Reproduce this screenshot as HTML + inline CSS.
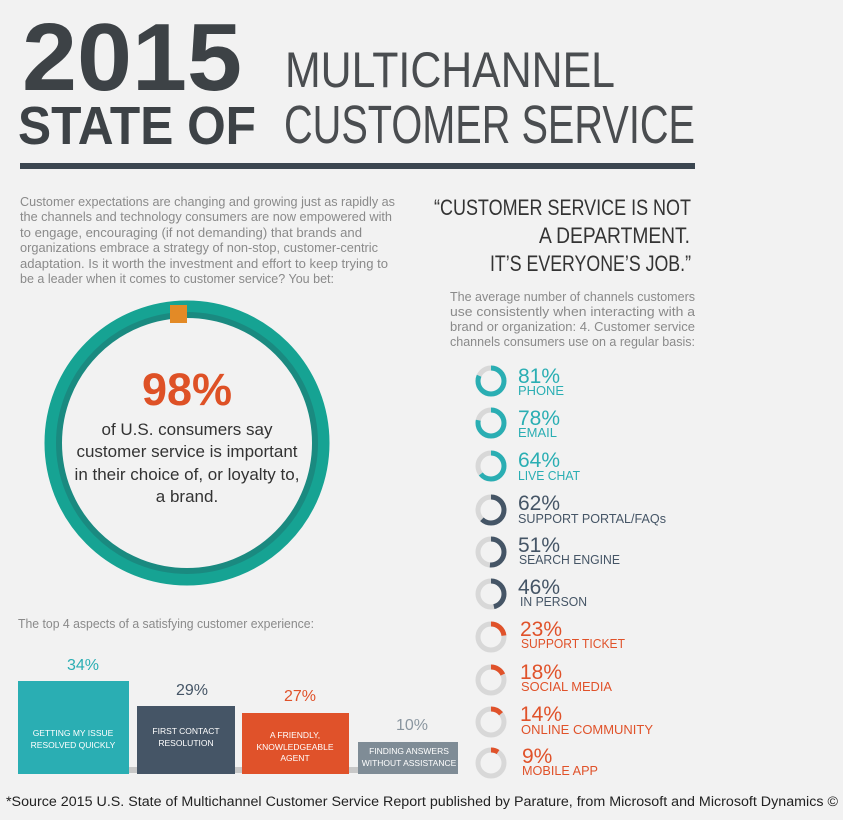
<!DOCTYPE html>
<html><head><meta charset="utf-8"><style>
html,body{margin:0;padding:0;background:#f2f2f2;}
svg{display:block;font-family:"Liberation Sans",sans-serif;}
</style></head><body>
<svg width="843" height="820" viewBox="0 0 843 820" xmlns="http://www.w3.org/2000/svg">
<rect width="843" height="820" fill="#f2f2f2"/>
<g fill="#3d4246" font-weight="bold">
<text x="22" y="90" font-size="96" textLength="220" lengthAdjust="spacingAndGlyphs">2015</text>
<text x="18" y="144" font-size="54" textLength="238" lengthAdjust="spacingAndGlyphs">STATE OF</text>
</g>
<g fill="#4a4d50">
<text x="285" y="87" font-size="50" textLength="330" lengthAdjust="spacingAndGlyphs">MULTICHANNEL</text>
<text x="284" y="143" font-size="54" textLength="411" lengthAdjust="spacingAndGlyphs">CUSTOMER SERVICE</text>
</g>
<rect x="20" y="163" width="675" height="6" fill="#3b4650"/>
<g fill="#8a8a8a" font-size="12.5">
<text x="20" y="206" textLength="375" lengthAdjust="spacingAndGlyphs">Customer expectations are changing and growing just as rapidly as</text>
<text x="20" y="221" textLength="372" lengthAdjust="spacingAndGlyphs">the channels and technology consumers are now empowered with</text>
<text x="20" y="237" textLength="342" lengthAdjust="spacingAndGlyphs">to engage, encouraging (if not demanding) that brands and</text>
<text x="20" y="252" textLength="358" lengthAdjust="spacingAndGlyphs">organizations embrace a strategy of non-stop, customer-centric</text>
<text x="20" y="268" textLength="368" lengthAdjust="spacingAndGlyphs">adaptation. Is it worth the investment and effort to keep trying to</text>
<text x="20" y="283" textLength="314" lengthAdjust="spacingAndGlyphs">be a leader when it comes to customer service? You bet:</text>
</g>
<g fill="#333" font-size="22" text-anchor="end">
<text x="691" y="215" textLength="257" lengthAdjust="spacingAndGlyphs">“CUSTOMER SERVICE IS NOT</text>
<text x="690" y="243" textLength="151" lengthAdjust="spacingAndGlyphs">A DEPARTMENT.</text>
<text x="691" y="271" textLength="201" lengthAdjust="spacingAndGlyphs">IT’S EVERYONE’S JOB.”</text>
</g>
<g fill="#8a8a8a" font-size="12.5" text-anchor="end">
<text x="695" y="301" textLength="245" lengthAdjust="spacingAndGlyphs">The average number of channels customers</text>
<text x="695" y="316" textLength="245" lengthAdjust="spacingAndGlyphs">use consistently when interacting with a</text>
<text x="695" y="331" textLength="245" lengthAdjust="spacingAndGlyphs">brand or organization: 4. Customer service</text>
<text x="695" y="346" textLength="245" lengthAdjust="spacingAndGlyphs">channels consumers use on a regular basis:</text>
</g>
<circle cx="187" cy="443" r="134" fill="none" stroke="#16a393" stroke-width="17"/>
<circle cx="187" cy="443" r="128" fill="none" stroke="#1a8a80" stroke-width="6"/>
<rect x="170" y="305" width="17" height="18" fill="#e38a26"/>
<text x="187" y="405" font-size="45" font-weight="bold" fill="#de5126" text-anchor="middle">98%</text>
<g fill="#333" font-size="17" text-anchor="middle">
<text x="187" y="435">of U.S. consumers say</text>
<text x="187" y="457">customer service is important</text>
<text x="187" y="480">in their choice of, or loyalty to,</text>
<text x="187" y="502">a brand.</text>
</g>
<text x="18" y="628" font-size="12.5" fill="#8a8a8a" textLength="296" lengthAdjust="spacingAndGlyphs">The top 4 aspects of a satisfying customer experience:</text>
<rect x="18" y="767" width="440" height="6" fill="#c8c8c8"/>
<rect x="18" y="681" width="111" height="93" fill="#2aaeb3"/>
<rect x="137" y="706" width="98" height="68" fill="#455566"/>
<rect x="242" y="713" width="107" height="61" fill="#e0522a"/>
<rect x="358" y="742" width="100" height="32" fill="#7f8c96"/>
<g font-size="16" text-anchor="middle">
<text x="83" y="670" fill="#2aaeb3">34%</text>
<text x="192" y="695" fill="#455566">29%</text>
<text x="300" y="701" fill="#e0522a">27%</text>
<text x="412" y="730" fill="#8a96a0">10%</text>
</g>
<g fill="#fff" font-size="8.5" text-anchor="middle">
<text x="73" y="736">GETTING MY ISSUE</text>
<text x="73" y="748">RESOLVED QUICKLY</text>
<text x="186" y="734">FIRST CONTACT</text>
<text x="186" y="746">RESOLUTION</text>
<text x="295" y="738">A FRIENDLY,</text>
<text x="295" y="750">KNOWLEDGEABLE</text>
<text x="295" y="761">AGENT</text>
<text x="409" y="754">FINDING ANSWERS</text>
<text x="409" y="766">WITHOUT ASSISTANCE</text>
</g>
<text x="6" y="806" font-size="13.5" fill="#222" textLength="832" lengthAdjust="spacingAndGlyphs">*Source 2015 U.S. State of Multichannel Customer Service Report published by Parature, from Microsoft and Microsoft Dynamics ©</text>
<g fill="none" stroke-width="5">
<circle cx="491" cy="381" r="13" stroke="#d8d8d8"/>
<circle cx="491" cy="381" r="13" stroke="#2aaeb3" stroke-dasharray="66.2 100" transform="rotate(-90 491 381)"/>
<circle cx="491" cy="423" r="13" stroke="#d8d8d8"/>
<circle cx="491" cy="423" r="13" stroke="#2aaeb3" stroke-dasharray="63.7 100" transform="rotate(-90 491 423)"/>
<circle cx="491" cy="466" r="13" stroke="#d8d8d8"/>
<circle cx="491" cy="466" r="13" stroke="#2aaeb3" stroke-dasharray="52.3 100" transform="rotate(-90 491 466)"/>
<circle cx="491" cy="510" r="13" stroke="#d8d8d8"/>
<circle cx="491" cy="510" r="13" stroke="#455566" stroke-dasharray="50.6 100" transform="rotate(-90 491 510)"/>
<circle cx="491" cy="552" r="13" stroke="#d8d8d8"/>
<circle cx="491" cy="552" r="13" stroke="#455566" stroke-dasharray="41.7 100" transform="rotate(-90 491 552)"/>
<circle cx="491" cy="594" r="13" stroke="#d8d8d8"/>
<circle cx="491" cy="594" r="13" stroke="#455566" stroke-dasharray="37.6 100" transform="rotate(-90 491 594)"/>
<circle cx="491" cy="637" r="13" stroke="#d8d8d8"/>
<circle cx="491" cy="637" r="13" stroke="#e0522a" stroke-dasharray="18.8 100" transform="rotate(-90 491 637)"/>
<circle cx="491" cy="680" r="13" stroke="#d8d8d8"/>
<circle cx="491" cy="680" r="13" stroke="#e0522a" stroke-dasharray="14.7 100" transform="rotate(-90 491 680)"/>
<circle cx="491" cy="722" r="13" stroke="#d8d8d8"/>
<circle cx="491" cy="722" r="13" stroke="#e0522a" stroke-dasharray="11.4 100" transform="rotate(-90 491 722)"/>
<circle cx="491" cy="763" r="13" stroke="#d8d8d8"/>
<circle cx="491" cy="763" r="13" stroke="#e0522a" stroke-dasharray="7.4 100" transform="rotate(-90 491 763)"/>
</g>
<g font-size="21">
<text x="518" y="383" fill="#2aaeb3">81%</text>
<text x="518" y="425" fill="#2aaeb3">78%</text>
<text x="518" y="467" fill="#2aaeb3">64%</text>
<text x="518" y="510" fill="#455566">62%</text>
<text x="518" y="552" fill="#455566">51%</text>
<text x="518" y="594" fill="#455566">46%</text>
<text x="520" y="636" fill="#e0522a">23%</text>
<text x="520" y="679" fill="#e0522a">18%</text>
<text x="520" y="721" fill="#e0522a">14%</text>
<text x="522" y="763" fill="#e0522a">9%</text>
</g>
<g font-size="13">
<text x="518" y="395" fill="#2aaeb3" textLength="46" lengthAdjust="spacingAndGlyphs">PHONE</text>
<text x="518" y="437" fill="#2aaeb3" textLength="39" lengthAdjust="spacingAndGlyphs">EMAIL</text>
<text x="518" y="480" fill="#2aaeb3" textLength="62" lengthAdjust="spacingAndGlyphs">LIVE CHAT</text>
<text x="518" y="523" fill="#455566" textLength="148" lengthAdjust="spacingAndGlyphs">SUPPORT PORTAL/FAQs</text>
<text x="519" y="564" fill="#455566" textLength="101" lengthAdjust="spacingAndGlyphs">SEARCH ENGINE</text>
<text x="520" y="606" fill="#455566" textLength="67" lengthAdjust="spacingAndGlyphs">IN PERSON</text>
<text x="521" y="648" fill="#e0522a" textLength="104" lengthAdjust="spacingAndGlyphs">SUPPORT TICKET</text>
<text x="521" y="691" fill="#e0522a" textLength="91" lengthAdjust="spacingAndGlyphs">SOCIAL MEDIA</text>
<text x="521" y="734" fill="#e0522a" textLength="132" lengthAdjust="spacingAndGlyphs">ONLINE COMMUNITY</text>
<text x="522" y="775" fill="#e0522a" textLength="76" lengthAdjust="spacingAndGlyphs">MOBILE APP</text>
</g>
</svg>
</body></html>
